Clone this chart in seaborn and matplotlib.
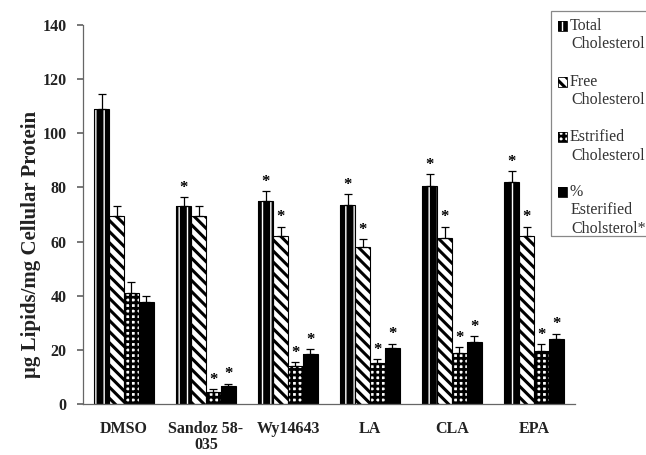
import numpy as np
import pandas as pd
import matplotlib
matplotlib.use("Agg")
import matplotlib.pyplot as plt
from matplotlib.patches import Rectangle
import seaborn as sns

categories = ["DMSO", "Sandoz 58-\n035", "Wy14643", "LA", "CLA", "EPA"]
series = ["Total\nCholesterol", "Free\nCholesterol", "Estrified\nCholesterol",
          "%\nEsterified\nCholsterol*"]

total = [109.0, 73.0, 75.0, 73.5, 80.5, 82.0]
total_err = [5.5, 3.5, 3.5, 4.0, 4.3, 4.0]
free = [69.5, 69.5, 62.0, 58.0, 61.5, 62.0]
free_err = [3.5, 3.5, 3.5, 3.0, 4.0, 3.5]
estr = [41.0, 4.5, 14.0, 15.0, 19.0, 19.5]
estr_err = [4.0, 1.0, 1.5, 1.5, 2.0, 2.5]
pct = [37.5, 6.5, 18.3, 20.8, 23.0, 24.0]
pct_err = [2.5, 1.0, 2.0, 1.5, 2.0, 2.0]

# significance flags (1 = asterisk)
total_sig = [0, 1, 1, 1, 1, 1]
free_sig = [0, 0, 1, 1, 1, 1]
estr_sig = [0, 1, 1, 1, 1, 1]
pct_sig = [0, 1, 1, 1, 1, 1]

values = [total, free, estr, pct]
errors = [total_err, free_err, estr_err, pct_err]
sigs = [total_sig, free_sig, estr_sig, pct_sig]

df = pd.DataFrame({
    "treatment": np.tile(categories, len(series)),
    "series": np.repeat(series, len(categories)),
    "value": np.concatenate(values),
})

sns.set_theme(style="white")
plt.rcParams["font.family"] = ["Liberation Serif", "DejaVu Serif"]

W, H = 646, 455
fig = plt.figure(figsize=(W / 100, H / 100), dpi=100)
ax = fig.add_axes([83 / W, 1 - 404 / H, (575 - 83) / W, (404 - 25) / H])

sns.barplot(data=df, x="treatment", y="value", hue="series", order=categories,
            hue_order=series, width=0.73, gap=0, errorbar=None,
            palette=["black"] * 4, legend=False, ax=ax)

# bar styles: (face, hatch colour, hatch, hatch linewidth)
styles = [
    ("black", "white", "||", 1.0),
    ("white", "black", "\\\\\\", 2.2),
    ("white", "black", "+++", 2.0),
    ("black", "black", None, 1.0),
]


def style_patch(p, face, hcol, hatch, hlw):
    p.set_facecolor(face)
    p.set_edgecolor(hcol)
    p.set_linewidth(0)
    if hatch:
        p.set_hatch(hatch)
        if hasattr(p, "set_hatch_linewidth"):
            p.set_hatch_linewidth(hlw)


for cont, (face, hcol, hatch, hlw), err, sig in zip(ax.containers, styles, errors, sigs):
    xs, ys = [], []
    for p in cont.patches:
        style_patch(p, face, hcol, hatch, hlw)
        ax.add_patch(Rectangle((p.get_x(), 0), p.get_width(), p.get_height(),
                               fill=False, edgecolor="black", linewidth=0.8))
        xs.append(p.get_x() + p.get_width() / 2)
        ys.append(p.get_height())
    xs = np.array(xs)
    ys = np.array(ys)
    e = np.array(err)
    ax.errorbar(xs, ys, yerr=[np.zeros_like(e), e], fmt="none", ecolor="black",
                elinewidth=0.9, capsize=3, capthick=0.9)
    for x, y, ee, s in zip(xs, ys, e, sig):
        if s:
            ax.text(x, y + ee + 0.5, "*", ha="center", va="bottom",
                    fontsize=12, fontweight="bold", color="black")

ax.set_ylim(0, 140)
ax.set_xlim(-0.5, len(categories) - 0.5)
ax.set_yticks(np.arange(0, 141, 20))
ax.set_xticks(np.arange(len(categories)))
ax.set_xticklabels(categories, fontsize=11.5, fontweight="bold", color="#222222",
                   linespacing=1.0)
ax.set_xticks(np.arange(-0.5, len(categories)), minor=True)
ax.tick_params(axis="x", which="major", length=0, pad=12)
ax.tick_params(axis="x", which="minor", length=4, color="#666666", direction="out")
ax.tick_params(axis="y", length=4, color="#666666", direction="out",
               labelsize=11.5, left=True, pad=8, labelcolor="#222222")
for lab in ax.get_yticklabels():
    lab.set_fontweight("bold")
ax.set_xlabel("")
ax.set_ylabel("")

for side in ["top", "right"]:
    ax.spines[side].set_visible(False)
for side in ["left", "bottom"]:
    ax.spines[side].set_color("#666666")
    ax.spines[side].set_linewidth(0.9)

fig.text(31 / W, 1 - 244 / H, "\u03bcg Lipids/mg Cellular Protein", rotation=90,
         ha="center", va="center", fontsize=15, fontweight="bold", color="#222222")

# key box at the right edge, entries drawn in figure pixel space
px = lambda x: x / W
py = lambda y: 1 - y / H
fig.patches.append(Rectangle((px(551), py(236)), px(120), (236 - 11) / H,
                             transform=fig.transFigure, fill=False,
                             edgecolor="#888888", linewidth=0.9, clip_on=False))
first_line_y = [26, 82, 137, 192]
line_step = 18.5
for (face, hcol, hatch, hlw), label, y0 in zip(styles, series, first_line_y):
    r = Rectangle((px(558), py(y0 + 4.5)), 9 / W, 9 / H, transform=fig.transFigure,
                  facecolor=face, edgecolor=hcol, linewidth=0, hatch=hatch)
    if hatch and hasattr(r, "set_hatch_linewidth"):
        r.set_hatch_linewidth(hlw)
    fig.patches.append(r)
    fig.patches.append(Rectangle((px(558), py(y0 + 4.5)), 9 / W, 9 / H,
                                 transform=fig.transFigure, fill=False,
                                 edgecolor="black", linewidth=0.6))
    for i, line in enumerate(label.split("\n")):
        fig.text(px(571 if i else 570), py(y0 + i * line_step), line,
                 ha="left", va="center", fontsize=11.5, color="#333333")

fig.savefig("out.png", dpi=100)
